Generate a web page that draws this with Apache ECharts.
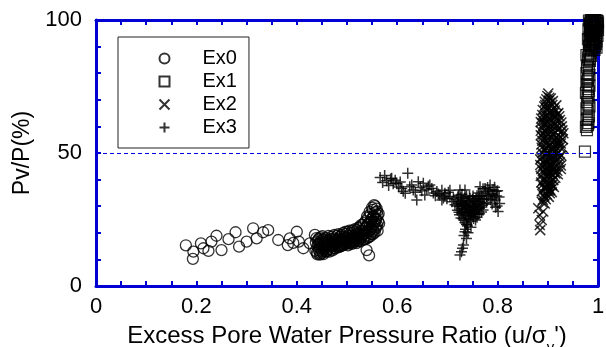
<!DOCTYPE html>
<html>
<head>
<meta charset="utf-8">
<script src="https://cdn.jsdelivr.net/npm/echarts@6/dist/echarts.min.js"></script>
<style>
  html, body { margin: 0; padding: 0; background: #fff; }
  #chart { width: 606px; height: 347px; }
</style>
</head>
<body>
<div id="chart"></div>
<script>
// Pv/P (%) against excess pore water pressure ratio, four tests
const seriesNames = ['Ex0', 'Ex1', 'Ex2', 'Ex3'];
const xTicks = [0, 0.2, 0.4, 0.6, 0.8, 1];
const yTicks = [0, 50, 100];
const refLine = 50;

const ex0 = [
  [0.179,15.3],[0.193,10.2],[0.194,12.9],[0.209,16.0],[0.214,14.2],[0.224,13.2],[0.230,16.7],
  [0.240,18.9],[0.250,13.5],[0.264,17.6],[0.278,20.2],[0.285,14.8],[0.300,16.7],[0.313,21.7],
  [0.320,17.9],[0.333,20.2],[0.343,21.0],[0.363,17.3],[0.382,15.4],[0.386,17.9],[0.393,16.2],
  [0.400,20.4],[0.404,16.7],[0.413,14.2],[0.426,16.0],[0.436,19.2],
  [0.440,12.5],[0.441,14.8],[0.442,17.2],[0.444,13.4],[0.445,16.1],[0.446,11.8],[0.447,18.3],
  [0.449,14.0],[0.450,15.7],[0.451,12.6],[0.452,17.4],[0.454,13.8],[0.455,16.5],[0.457,14.9],
  [0.458,12.9],[0.459,18.0],[0.461,15.3],[0.462,13.6],[0.464,17.1],[0.465,14.4],[0.467,16.2],
  [0.468,13.9],[0.470,18.6],[0.471,15.0],[0.473,16.8],[0.474,14.2],[0.476,17.5],[0.477,15.6],
  [0.479,14.7],[0.480,18.9],[0.482,16.3],[0.483,15.1],[0.485,17.8],[0.486,14.9],[0.488,16.6],
  [0.489,19.2],[0.491,15.5],[0.492,17.3],[0.494,16.0],[0.495,18.4],[0.497,15.8],[0.498,19.6],
  [0.500,17.0],[0.501,16.2],[0.503,18.8],[0.504,15.9],[0.506,17.7],[0.507,19.9],[0.509,16.5],
  [0.510,18.3],[0.512,17.1],[0.513,20.2],[0.515,16.8],[0.516,19.0],[0.518,17.6],[0.519,21.0],
  [0.521,18.2],[0.522,16.9],[0.524,19.8],[0.525,22.1],[0.527,17.8],[0.528,20.6],[0.530,18.7],
  [0.531,23.0],[0.533,19.5],[0.534,17.6],[0.536,21.7],[0.537,24.4],[0.538,18.9],[0.539,13.5],
  [0.540,22.8],[0.541,20.3],[0.542,25.6],[0.543,18.4],[0.544,11.5],[0.545,23.9],[0.546,21.2],
  [0.547,27.0],[0.548,19.6],[0.549,25.1],[0.550,22.4],[0.551,28.6],[0.552,20.5],[0.553,26.3],
  [0.554,30.4],[0.555,23.8],[0.556,27.7],[0.557,21.6],[0.558,25.0],[0.559,29.1],[0.560,22.9],
  [0.561,26.6],[0.562,24.3],
  [0.437,13.2],[0.438,16.4],[0.439,18.0],[0.441,11.9],[0.443,15.6],[0.444,17.8],[0.446,14.3],
  [0.448,12.2],[0.448,16.9],[0.450,13.1],[0.451,18.7],[0.453,15.2],[0.453,12.0],[0.455,14.0],
  [0.456,17.9],[0.458,15.8],[0.460,13.0],[0.460,17.2],[0.462,15.9],[0.463,18.8],[0.465,12.9],
  [0.466,16.7],[0.468,15.3],[0.469,17.6],[0.471,13.4],[0.472,17.9],[0.474,15.8],[0.475,19.2],
  [0.477,14.1],[0.478,16.9],[0.480,15.4],[0.481,17.4],[0.483,19.5],[0.484,14.6],[0.486,16.8],
  [0.487,18.6],[0.489,15.1],[0.490,17.6],[0.492,19.9],[0.493,15.4],[0.495,16.9],[0.496,20.3],
  [0.498,16.6],[0.499,18.1],[0.501,20.4],[0.502,15.3],[0.504,17.4],[0.505,20.8],[0.507,16.1],
  [0.508,18.9],[0.510,15.8],[0.511,20.9],[0.513,17.9],[0.514,16.3],[0.516,21.4],[0.517,18.4],
  [0.519,16.1],[0.520,19.6],[0.522,21.8],[0.523,17.3],[0.525,19.2],[0.526,16.8],[0.528,22.9],
  [0.529,18.3],[0.531,20.6],[0.532,17.4],[0.534,23.6],[0.535,19.8],[0.537,17.6],[0.538,22.1],
  [0.540,26.2],[0.541,18.1],[0.542,23.3],[0.544,20.7],[0.545,27.9],[0.546,18.6],[0.548,24.2],
  [0.549,21.5],[0.550,29.5],[0.551,19.4],[0.552,26.0],[0.553,23.0],[0.555,20.1],[0.556,30.0],
  [0.557,25.4],[0.558,22.2],[0.560,28.0],[0.561,20.8],[0.563,27.2],[0.564,23.5]
];

const ex1 = [
  [0.974,50.5],
  [0.978,58.6],[0.980,60.5],[0.977,62.4],[0.982,63.8],[0.979,65.9],[0.983,67.5],[0.978,69.1],
  [0.981,70.8],[0.976,72.6],[0.980,74.0],[0.983,75.3],[0.978,76.9],[0.981,78.6],[0.977,80.0],
  [0.982,81.4],[0.979,83.0],[0.984,84.6],[0.980,86.0],[0.985,87.5],
  [0.976,59.8],[0.981,61.2],[0.979,63.0],[0.977,66.8],[0.981,68.3],[0.979,71.6],[0.982,73.2],
  [0.977,75.6],[0.980,77.8],[0.983,79.4],[0.978,82.2],[0.981,85.0],[0.977,86.8],
  [0.986,88.6],[0.990,89.8],[0.984,90.5],[0.992,91.3],[0.988,92.4],[0.995,93.0],[0.986,93.8],
  [0.991,94.6],[0.997,95.2],[0.984,95.9],[0.989,96.5],[0.994,97.1],[0.999,97.6],[0.987,98.0],
  [0.992,98.5],[0.996,99.0],[0.985,99.3],[0.990,99.6],[0.998,99.8],[0.993,100],[0.988,100],
  [0.984,98.7],[0.997,92.0],[0.993,88.8],
  [0.982,99.8],[0.986,97.2],[0.989,95.0],[0.983,93.5],[0.995,95.9],[0.998,98.4],[0.991,97.0],
  [0.987,91.0],[0.994,90.2],[0.999,94.0],[0.981,96.5],[0.985,94.7],[0.992,96.2],[0.996,94.3],
  [0.989,99.0],[0.983,91.9],[0.988,89.2],[0.997,89.6],[0.991,92.7],[0.995,100],[0.980,92.8],
  [1.000,99.0],[1.000,96.3],[0.986,86.5],[0.983,85.4],[0.982,88.2],
  [0.984,97.4],[0.990,98.2],[0.994,99.4],[0.987,95.5],[0.993,93.9],[0.998,96.8],[0.985,92.2],
  [0.990,91.6],[0.996,91.0],[0.988,94.1],[0.982,90.3],[0.999,99.6],[0.986,100],[0.991,100]
];

const ex2 = [
  [0.901,72.4],[0.897,70.2],[0.905,68.9],[0.893,67.5],[0.912,66.8],[0.921,65.0],[0.889,64.3],
  [0.899,63.6],[0.908,62.2],[0.927,61.5],[0.894,60.8],[0.917,60.1],[0.903,59.0],[0.886,58.4],
  [0.925,57.6],[0.911,56.9],[0.896,56.1],[0.930,55.2],[0.889,54.6],[0.919,53.8],[0.905,53.0],
  [0.924,52.2],[0.893,51.5],[0.914,50.6],[0.900,49.8],[0.927,49.0],[0.887,48.3],[0.909,47.4],
  [0.924,46.5],[0.896,45.8],[0.916,44.9],[0.926,44.0],[0.890,43.3],[0.905,42.5],[0.899,41.0],
  [0.911,39.8],[0.887,38.9],[0.902,37.5],[0.894,36.4],[0.908,35.3],[0.891,34.2],[0.888,31.7],
  [0.894,31.0],[0.881,29.2],[0.891,28.0],[0.884,26.7],[0.888,24.8],[0.884,22.9],[0.885,21.0],
  [0.895,68.0],[0.907,65.6],[0.915,63.4],[0.892,62.0],[0.920,58.8],[0.900,57.2],[0.913,55.0],
  [0.897,53.4],[0.909,51.3],[0.918,49.5],[0.895,47.6],[0.904,45.2],[0.913,43.0],[0.897,39.5],
  [0.906,40.8],[0.892,37.0],[0.899,35.8],[0.923,63.8],[0.929,58.5],[0.886,61.6],[0.903,70.8],
  [0.910,69.5],[0.917,67.9],[0.898,65.9],[0.891,57.0],[0.926,53.6],[0.888,52.0],[0.903,48.2],
  [0.921,47.8],[0.912,46.1],[0.896,43.9],[0.885,45.5],[0.920,42.0],[0.909,37.9],[0.902,33.5],
  [0.896,32.6],
  [0.899,71.4],[0.906,70.5],[0.894,69.3],[0.909,68.1],[0.901,67.2],[0.914,66.0],[0.890,66.2],
  [0.904,65.3],[0.919,64.6],[0.896,64.0],[0.911,63.9],[0.887,63.0],[0.902,62.6],[0.924,62.4],
  [0.893,61.2],[0.915,61.0],[0.906,60.4],[0.928,60.0],[0.888,59.6],[0.899,59.4],[0.921,59.1],
  [0.910,58.6],[0.894,58.0],[0.931,57.4],[0.886,56.7],[0.905,56.4],[0.918,56.0],[0.926,55.8],
  [0.893,55.1],[0.899,54.7],[0.911,54.2],[0.922,53.9],[0.887,53.2],[0.903,52.7],[0.916,52.4],
  [0.930,51.9],[0.895,51.1],[0.908,50.8],[0.921,50.3],[0.889,50.0],[0.898,49.4],[0.912,48.9],
  [0.923,48.6],[0.885,47.6],[0.901,47.0],[0.916,46.6],[0.892,46.2],[0.907,45.7],[0.926,45.3],
  [0.898,44.6],[0.913,44.2],[0.887,44.0],[0.903,43.6],[0.919,43.3],[0.893,42.3],[0.910,41.9],
  [0.886,41.4],[0.901,41.6],[0.915,40.7],[0.893,40.1],[0.906,39.4],[0.889,38.0],[0.899,38.2],
  [0.912,37.2],[0.895,36.9],[0.905,36.2],[0.888,35.6],[0.898,34.5],[0.904,34.9],[0.893,33.6],
  [0.890,32.4],
  [0.902,69.7],[0.897,66.6],[0.913,65.1],[0.905,63.7],[0.892,63.3],[0.918,62.0],[0.900,61.4],
  [0.910,60.0],[0.896,59.0],[0.915,57.8],[0.904,57.6],[0.890,55.9],[0.908,55.6],[0.921,55.1],
  [0.897,52.0],[0.913,53.1],[0.902,51.0],[0.917,51.2],[0.893,49.2],[0.906,49.0],[0.914,47.8],
  [0.899,46.4],[0.890,45.1],[0.909,44.0],[0.900,42.8],[0.915,42.3],[0.896,41.4],[0.903,39.0],
  [0.891,39.7],[0.907,38.0],[0.897,37.6],[0.902,35.9]
];

const ex3 = [
  [0.566,40.8],[0.571,38.9],[0.575,41.5],[0.579,39.6],[0.583,37.8],[0.587,40.2],[0.589,40.5],
  [0.592,38.4],[0.596,39.8],[0.599,38.6],[0.603,37.2],[0.606,39.1],[0.609,36.7],[0.612,35.6],
  [0.616,34.9],[0.621,42.4],[0.625,37.3],[0.629,38.0],[0.632,36.1],[0.636,35.2],[0.639,32.3],
  [0.642,39.2],[0.646,37.0],[0.649,35.8],[0.652,38.6],[0.655,34.2],[0.659,36.4],[0.662,37.5],
  [0.665,38.0],[0.669,36.7],[0.672,35.0],[0.676,33.9],[0.679,35.5],[0.682,34.6],[0.685,34.2],
  [0.689,32.3],[0.689,36.0],[0.692,33.1],[0.695,34.9],[0.695,33.6],[0.699,32.8],[0.702,35.2],
  [0.705,33.6],[0.705,36.0],[0.709,31.7],[0.712,33.0],[0.715,30.5],[0.718,32.4],[0.722,34.1],
  [0.725,36.1],[0.728,31.2],[0.735,36.1],
  [0.720,28.5],[0.722,31.0],[0.724,26.8],[0.725,29.9],[0.727,33.2],[0.728,27.4],[0.730,30.6],
  [0.731,25.3],[0.732,32.1],[0.734,28.8],[0.735,23.9],[0.736,30.2],[0.737,26.5],[0.738,33.8],
  [0.739,29.4],[0.740,22.6],[0.741,27.9],[0.742,31.5],[0.743,25.1],[0.744,29.0],[0.745,33.0],
  [0.746,27.2],[0.747,24.3],[0.748,30.8],[0.749,28.1],[0.750,32.6],[0.751,26.0],[0.752,29.6],
  [0.753,31.9],[0.754,27.5],[0.755,30.3],[0.756,24.8],[0.757,32.9],[0.758,28.7],[0.760,30.9],
  [0.761,26.9],[0.763,33.6],[0.764,29.3],[0.766,31.2],[0.768,27.8],[0.770,30.4],
  [0.719,30.1],[0.721,33.5],[0.723,27.7],[0.726,31.8],[0.727,25.6],[0.729,29.0],[0.729,34.5],
  [0.731,27.9],[0.733,30.9],[0.733,24.7],[0.735,33.1],[0.736,27.1],[0.738,29.9],[0.738,23.2],
  [0.740,31.8],[0.741,25.9],[0.742,28.6],[0.744,33.7],[0.745,26.4],[0.746,30.1],[0.747,22.1],
  [0.748,27.8],[0.750,29.8],[0.751,33.8],[0.752,25.4],[0.753,28.4],[0.755,32.0],[0.756,27.0],
  [0.757,30.0],[0.759,25.8],[0.759,33.9],[0.761,29.1],[0.762,31.8],[0.764,27.2],[0.765,33.0],
  [0.767,29.7],[0.769,32.6],[0.771,28.6],[0.773,30.9],[0.736,21.3],[0.741,20.0],[0.739,23.0],
  [0.762,35.0],[0.765,37.3],[0.768,34.1],[0.771,36.6],[0.773,32.8],[0.776,35.4],[0.778,31.5],
  [0.780,37.0],[0.782,33.9],[0.785,38.0],[0.787,34.7],[0.789,30.8],[0.791,36.2],[0.793,33.1],
  [0.795,32.3],[0.797,35.6],[0.799,30.1],[0.801,28.0],[0.803,33.5],
  [0.775,36.7],[0.779,33.6],[0.783,36.0],[0.786,32.4],[0.790,34.4],[0.794,37.1],[0.798,33.8],
  [0.800,35.8],[0.804,31.0],[0.796,29.6],
  [0.735,20.4],[0.738,17.9],[0.732,15.4],[0.728,12.9],[0.725,11.7],[0.733,19.0],[0.730,14.2]
];

const AXIS_BLUE = '#0000d2';
const FONT = '"Liberation Sans", Arial, sans-serif';
const CROSS = 'path://M0,0L10,10M0,10L10,0';
const PLUS = 'path://M5,0L5,10M0,5L10,5';

function hollow(width) {
  return { color: 'none', borderColor: '#000', borderWidth: width };
}

function frameAxis(extra) {
  return Object.assign({
    axisLine: { show: true, onZero: false, lineStyle: { color: AXIS_BLUE, width: 3 } },
    axisTick: { show: true, inside: true, length: 5, lineStyle: { color: AXIS_BLUE, width: 2 } },
    splitLine: { show: false },
    minorSplitLine: { show: false }
  }, extra);
}

const chart = echarts.init(document.getElementById('chart'), null, { renderer: 'canvas' });

chart.setOption({
  animation: false,
  backgroundColor: '#fff',
  textStyle: { fontFamily: FONT },
  grid: { left: 96, right: 8, top: 20, bottom: 61, containLabel: false, outerBoundsMode: 'none' },
  legend: {
    orient: 'vertical',
    left: 118,
    top: 37,
    padding: [10, 12, 9, 39],
    itemGap: 0,
    itemWidth: 10,
    itemHeight: 10,
    borderColor: '#222',
    borderWidth: 1,
    backgroundColor: '#fff',
    data: seriesNames,
    textStyle: { fontFamily: FONT, fontSize: 20, color: '#000', lineHeight: 23, padding: [0, 0, 0, 28] }
  },
  xAxis: [
    frameAxis({
      type: 'value', min: xTicks[0], max: xTicks[xTicks.length - 1], interval: 0.2,
      minorTick: { show: true, splitNumber: 4, length: 5, lineStyle: { color: AXIS_BLUE, width: 2 } },
      position: 'bottom',
      name: 'Excess Pore Water Pressure Ratio (u/σ{s|v}\')',
      nameLocation: 'middle',
      nameGap: 32,
      nameTextStyle: {
        fontFamily: FONT, fontSize: 24, color: '#000',
        rich: { s: { fontFamily: FONT, fontSize: 15, color: '#000', padding: [22, 0, 0, 0] } }
      },
      axisLabel: {
        fontFamily: FONT, fontSize: 22, color: '#000', margin: 10,
        formatter: v => (xTicks.some(t => Math.abs(t - v) < 1e-9) ? String(+v.toFixed(1)) : '')
      }
    }),
    frameAxis({
      type: 'value', min: 0, max: 1, interval: 0.2, position: 'top',
      minorTick: { show: true, splitNumber: 4, length: 5, lineStyle: { color: AXIS_BLUE, width: 2 } },
      axisLabel: { show: false }
    })
  ],
  yAxis: [
    frameAxis({
      type: 'value', min: yTicks[0], max: yTicks[yTicks.length - 1], interval: 50,
      minorTick: { show: true, splitNumber: 5, length: 5, lineStyle: { color: AXIS_BLUE, width: 2 } },
      position: 'left',
      name: 'Pv/P(%)',
      nameLocation: 'middle',
      nameGap: 44,
      nameTextStyle: { fontFamily: FONT, fontSize: 23, color: '#000' },
      axisLabel: { fontFamily: FONT, fontSize: 22, color: '#000', margin: 14 }
    }),
    frameAxis({
      type: 'value', min: 0, max: 100, interval: 50, position: 'right',
      minorTick: { show: true, splitNumber: 5, length: 5, lineStyle: { color: AXIS_BLUE, width: 2 } },
      axisLabel: { show: false }
    })
  ],
  series: [
    {
      name: seriesNames[0], type: 'scatter', data: ex0,
      symbol: 'circle', symbolSize: 11, itemStyle: hollow(1.3),
      markLine: {
        silent: true, symbol: 'none', label: { show: false },
        lineStyle: { color: '#0000e0', width: 1, type: [4, 3] },
        data: [{ yAxis: refLine }]
      }
    },
    {
      name: seriesNames[1], type: 'scatter', data: ex1,
      symbol: 'rect', symbolSize: 11, itemStyle: hollow(1.2)
    },
    {
      name: seriesNames[2], type: 'scatter', data: ex2,
      symbol: CROSS, symbolSize: 10, symbolKeepAspect: true, itemStyle: hollow(1.5)
    },
    {
      name: seriesNames[3], type: 'scatter', data: ex3,
      symbol: PLUS, symbolSize: 11, symbolKeepAspect: true, itemStyle: hollow(1.5)
    }
  ]
});
</script>
</body>
</html>
